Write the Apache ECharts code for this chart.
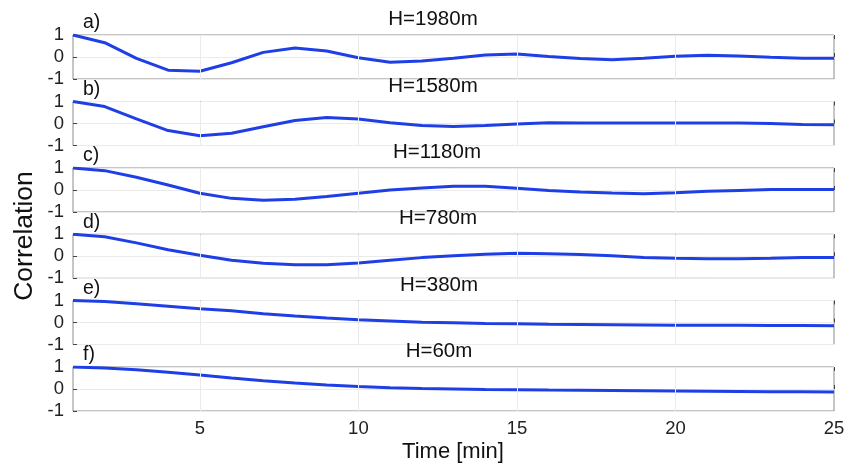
<!DOCTYPE html>
<html>
<head>
<meta charset="utf-8">
<script src="https://cdn.jsdelivr.net/npm/echarts@6/dist/echarts.min.js"></script>
<style>html,body{margin:0;padding:0;background:#fff}#c{width:850px;height:466px}</style>
</head>
<body>
<div id="c"></div>
<script>
var times = [1,2,3,4,5,6,7,8,9,10,11,12,13,14,15,16,17,18,19,20,21,22,23,24,25];
var xTicks = [5,10,15,20,25];
var yTicks = [-1,0,1];
var panelLabels = ['a)','b)','c)','d)','e)','f)'];
var panelTitles = ['H=1980m','H=1580m','H=1180m','H=780m','H=380m','H=60m'];
var corrA = [1.0,0.65,-0.06,-0.6,-0.65,-0.26,0.21,0.41,0.27,-0.03,-0.24,-0.18,-0.06,0.09,0.14,0.02,-0.07,-0.12,-0.06,0.03,0.08,0.05,-0.01,-0.06,-0.06];
var corrB = [1.0,0.77,0.21,-0.32,-0.56,-0.44,-0.15,0.14,0.27,0.2,0.03,-0.09,-0.14,-0.09,-0.02,0.03,0.02,0.02,0.02,0.02,0.02,0.02,0.0,-0.05,-0.06];
var corrC = [1.0,0.88,0.58,0.23,-0.15,-0.38,-0.47,-0.42,-0.3,-0.15,0.0,0.09,0.17,0.17,0.08,-0.02,-0.09,-0.14,-0.17,-0.12,-0.06,-0.02,0.02,0.02,0.02];
var corrD = [1.0,0.89,0.61,0.3,0.05,-0.18,-0.32,-0.38,-0.38,-0.3,-0.18,-0.06,0.02,0.09,0.14,0.12,0.08,0.02,-0.05,-0.09,-0.11,-0.11,-0.09,-0.06,-0.05];
var corrE = [1.0,0.95,0.85,0.74,0.63,0.53,0.4,0.3,0.21,0.13,0.07,0.01,-0.01,-0.04,-0.06,-0.08,-0.09,-0.1,-0.11,-0.12,-0.13,-0.13,-0.14,-0.14,-0.15];
var corrF = [1.0,0.95,0.88,0.76,0.64,0.5,0.38,0.27,0.18,0.11,0.06,0.02,0.0,-0.02,-0.03,-0.05,-0.06,-0.07,-0.08,-0.09,-0.1,-0.11,-0.12,-0.13,-0.14];
var allSeries = [corrA,corrB,corrC,corrD,corrE,corrF];

var gridTops = [35,101.5,168,234.3,300.5,367];
var titleCenters = [433,433,437,438,439,439];
var gridH = 44;
var font = 'Liberation Sans, Arial, Helvetica, sans-serif';

var grids=[], xAxes=[], yAxes=[], series=[], titles=[];
allSeries.forEach(function(vals,i){
  grids.push({left:73, right:16, top:gridTops[i], height:gridH, show:true, borderColor:'#8c8c8c', borderWidth:1, backgroundColor:'transparent'});
  var last = (i===allSeries.length-1);
  xAxes.push({
    type:'value', gridIndex:i, min:1, max:25, position:'bottom',
    axisLine:{show:false},
    axisTick:{show:true, inside:true, length:4, customValues:xTicks, lineStyle:{color:'#444'}},
    axisLabel:{show:last, customValues:xTicks, fontSize:18.5, color:'#222', fontFamily:font, margin:8},
    splitLine:{show:false}
  });
  xAxes.push({
    type:'value', gridIndex:i, min:1, max:25, position:'top',
    axisLine:{show:false},
    axisTick:{show:true, inside:true, length:4, customValues:xTicks, lineStyle:{color:'#444'}},
    axisLabel:{show:false},
    splitLine:{show:false}
  });
  yAxes.push({
    type:'value', gridIndex:i, min:-1, max:1, interval:1,
    axisLine:{show:false},
    axisTick:{show:true, inside:true, length:4, lineStyle:{color:'#444'}},
    axisLabel:{fontSize:18.5, color:'#222', fontFamily:font, margin:9},
    splitLine:{show:true, lineStyle:{color:'#ebebeb', width:1}}
  });
  series.push({
    type:'line', xAxisIndex:2*i, yAxisIndex:i,
    data: times.map(function(t,k){return [t, vals[k]];}),
    showSymbol:false, symbol:'none',
    lineStyle:{color:'#1f3fe6', width:3},
    itemStyle:{color:'#1f3fe6'},
    markLine:{silent:true, symbol:'none', label:{show:false},
      lineStyle:{color:'#ebebeb', type:'solid', width:1},
      data: [5,10,15,20].map(function(v){return {xAxis:v};})
    },
    z:3
  });
  titles.push({text:panelTitles[i], left:titleCenters[i], textAlign:'center', top:gridTops[i]-26, padding:0,
    textStyle:{fontSize:20.5, fontWeight:'normal', color:'#111', fontFamily:font}});
  titles.push({text:panelLabels[i], left:83, top:gridTops[i]-22, padding:0,
    textStyle:{fontSize:19.5, fontWeight:'normal', color:'#111', fontFamily:font}});
});

var chart = echarts.init(document.getElementById('c'), null, {renderer:'canvas'});
chart.setOption({
  animation:false,
  backgroundColor:'#fff',
  title:titles,
  grid:grids,
  xAxis:xAxes,
  yAxis:yAxes,
  series:series,
  graphic:[
    {type:'text', style:{text:'Correlation', fontSize:26.5, fill:'#111', fontFamily:font, textAlign:'center', textVerticalAlign:'middle', x:0, y:0}, rotation:Math.PI/2, x:25, y:236},
    {type:'text', style:{text:'Time [min]', fontSize:22, fill:'#111', fontFamily:font, textAlign:'center', textVerticalAlign:'middle', x:0, y:0}, x:453, y:452}
  ]
});
</script>
</body>
</html>
